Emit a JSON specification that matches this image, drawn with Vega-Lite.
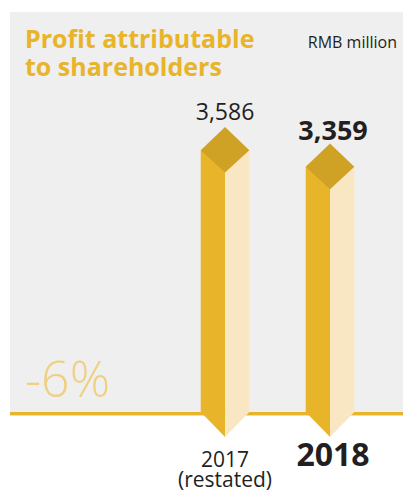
{
  "$schema": "https://vega.github.io/schema/vega-lite/v6.json",
  "autosize": "none",
  "width": 393,
  "height": 400,
  "padding": {"left": 10, "top": 12, "right": 0, "bottom": 81},
  "background": "#ffffff",
  "view": {"fill": "#efefef", "stroke": null},
  "config": {"font": "Open Sans"},
  "datasets": {
    "profit": [
      {"year": 2017, "label": "2017\n(restated)", "value": 3586, "valueLabel": "3,586", "current": false},
      {"year": 2018, "label": "2018", "value": 3359, "valueLabel": "3,359", "current": true}
    ],
    "notes": [
      {"kind": "title", "text": "Profit attributable\nto shareholders", "x": 2015.095, "y": 4983},
      {"kind": "unit", "text": "RMB million", "x": 2018.638, "y": 4991},
      {"kind": "change", "text": "-6%", "x": 2015.095, "y": 210}
    ]
  },
  "data": {"name": "profit"},
  "encoding": {
    "x": {"field": "year", "type": "quantitative", "axis": null, "scale": {"domain": [2014.952, 2018.695], "nice": false, "zero": false, "padding": 0}},
    "y": {"field": "value", "type": "quantitative", "axis": null, "scale": {"domain": [0, 5480], "nice": false, "padding": 0}}
  },
  "layer": [
    {"mark": {"type": "rule", "color": "#e8b42a", "strokeWidth": 3.3, "yOffset": 1.6, "clip": false},
     "encoding": {"x": {"datum": 2014.952}, "x2": {"datum": 2018.695}, "y": {"datum": 0}}},
    {"mark": {"type": "bar", "width": 24.3, "xOffset": -12.15, "color": "#e8b42a"}},
    {"mark": {"type": "bar", "width": 24.3, "xOffset": 12.15, "color": "#f9e7c4"}},
    {"mark": {"type": "point", "shape": "M-1,0L0,0L0,1.03Z", "size": 2362, "filled": true, "opacity": 1, "color": "#e8b42a", "clip": false},
     "encoding": {"y": {"datum": 0}}},
    {"mark": {"type": "point", "shape": "M0,0L1,0L0,1.03Z", "size": 2362, "filled": true, "opacity": 1, "color": "#f9e7c4", "clip": false},
     "encoding": {"y": {"datum": 0}}},
    {"mark": {"type": "point", "shape": "M-1,0L0,-0.96L1,0L0,0.92Z", "size": 2362, "filled": true, "opacity": 1, "color": "#cfa225"}},
    {"transform": [{"filter": "!datum.current"}],
     "mark": {"type": "text", "fontSize": 23, "color": "#231f20", "dy": -30, "baseline": "alphabetic"},
     "encoding": {"text": {"field": "valueLabel"}}},
    {"transform": [{"filter": "datum.current"}],
     "mark": {"type": "text", "fontSize": 27, "fontWeight": "bold", "color": "#231f20", "dy": -27, "dx": 3, "baseline": "alphabetic"},
     "encoding": {"text": {"field": "valueLabel"}}},
    {"transform": [{"filter": "!datum.current"}],
     "mark": {"type": "text", "fontSize": 21, "color": "#231f20", "dy": 55, "baseline": "alphabetic", "lineBreak": "\n", "lineHeight": 20, "clip": false},
     "encoding": {"y": {"datum": 0}, "text": {"field": "label"}}},
    {"transform": [{"filter": "datum.current"}],
     "mark": {"type": "text", "fontSize": 32, "fontWeight": "bold", "color": "#231f20", "dy": 54, "dx": 3, "baseline": "alphabetic", "clip": false},
     "encoding": {"y": {"datum": 0}, "text": {"field": "label"}}},
    {"data": {"name": "notes"},
     "transform": [{"filter": "datum.kind === 'title'"}],
     "mark": {"type": "text", "fontSize": 25, "fontWeight": "bold", "color": "#e8b42a", "align": "left", "baseline": "alphabetic", "lineBreak": "\n", "lineHeight": 28},
     "encoding": {"x": {"field": "x", "type": "quantitative"}, "y": {"field": "y", "type": "quantitative"}, "text": {"field": "text"}}},
    {"data": {"name": "notes"},
     "transform": [{"filter": "datum.kind === 'unit'"}],
     "mark": {"type": "text", "fontSize": 16, "color": "#231f20", "align": "right", "baseline": "alphabetic"},
     "encoding": {"x": {"field": "x", "type": "quantitative"}, "y": {"field": "y", "type": "quantitative"}, "text": {"field": "text"}}},
    {"data": {"name": "notes"},
     "transform": [{"filter": "datum.kind === 'change'"}],
     "mark": {"type": "text", "fontSize": 50, "fontWeight": 300, "color": "#efcf80", "align": "left", "baseline": "alphabetic"},
     "encoding": {"x": {"field": "x", "type": "quantitative"}, "y": {"field": "y", "type": "quantitative"}, "text": {"field": "text"}}}
  ]
}
